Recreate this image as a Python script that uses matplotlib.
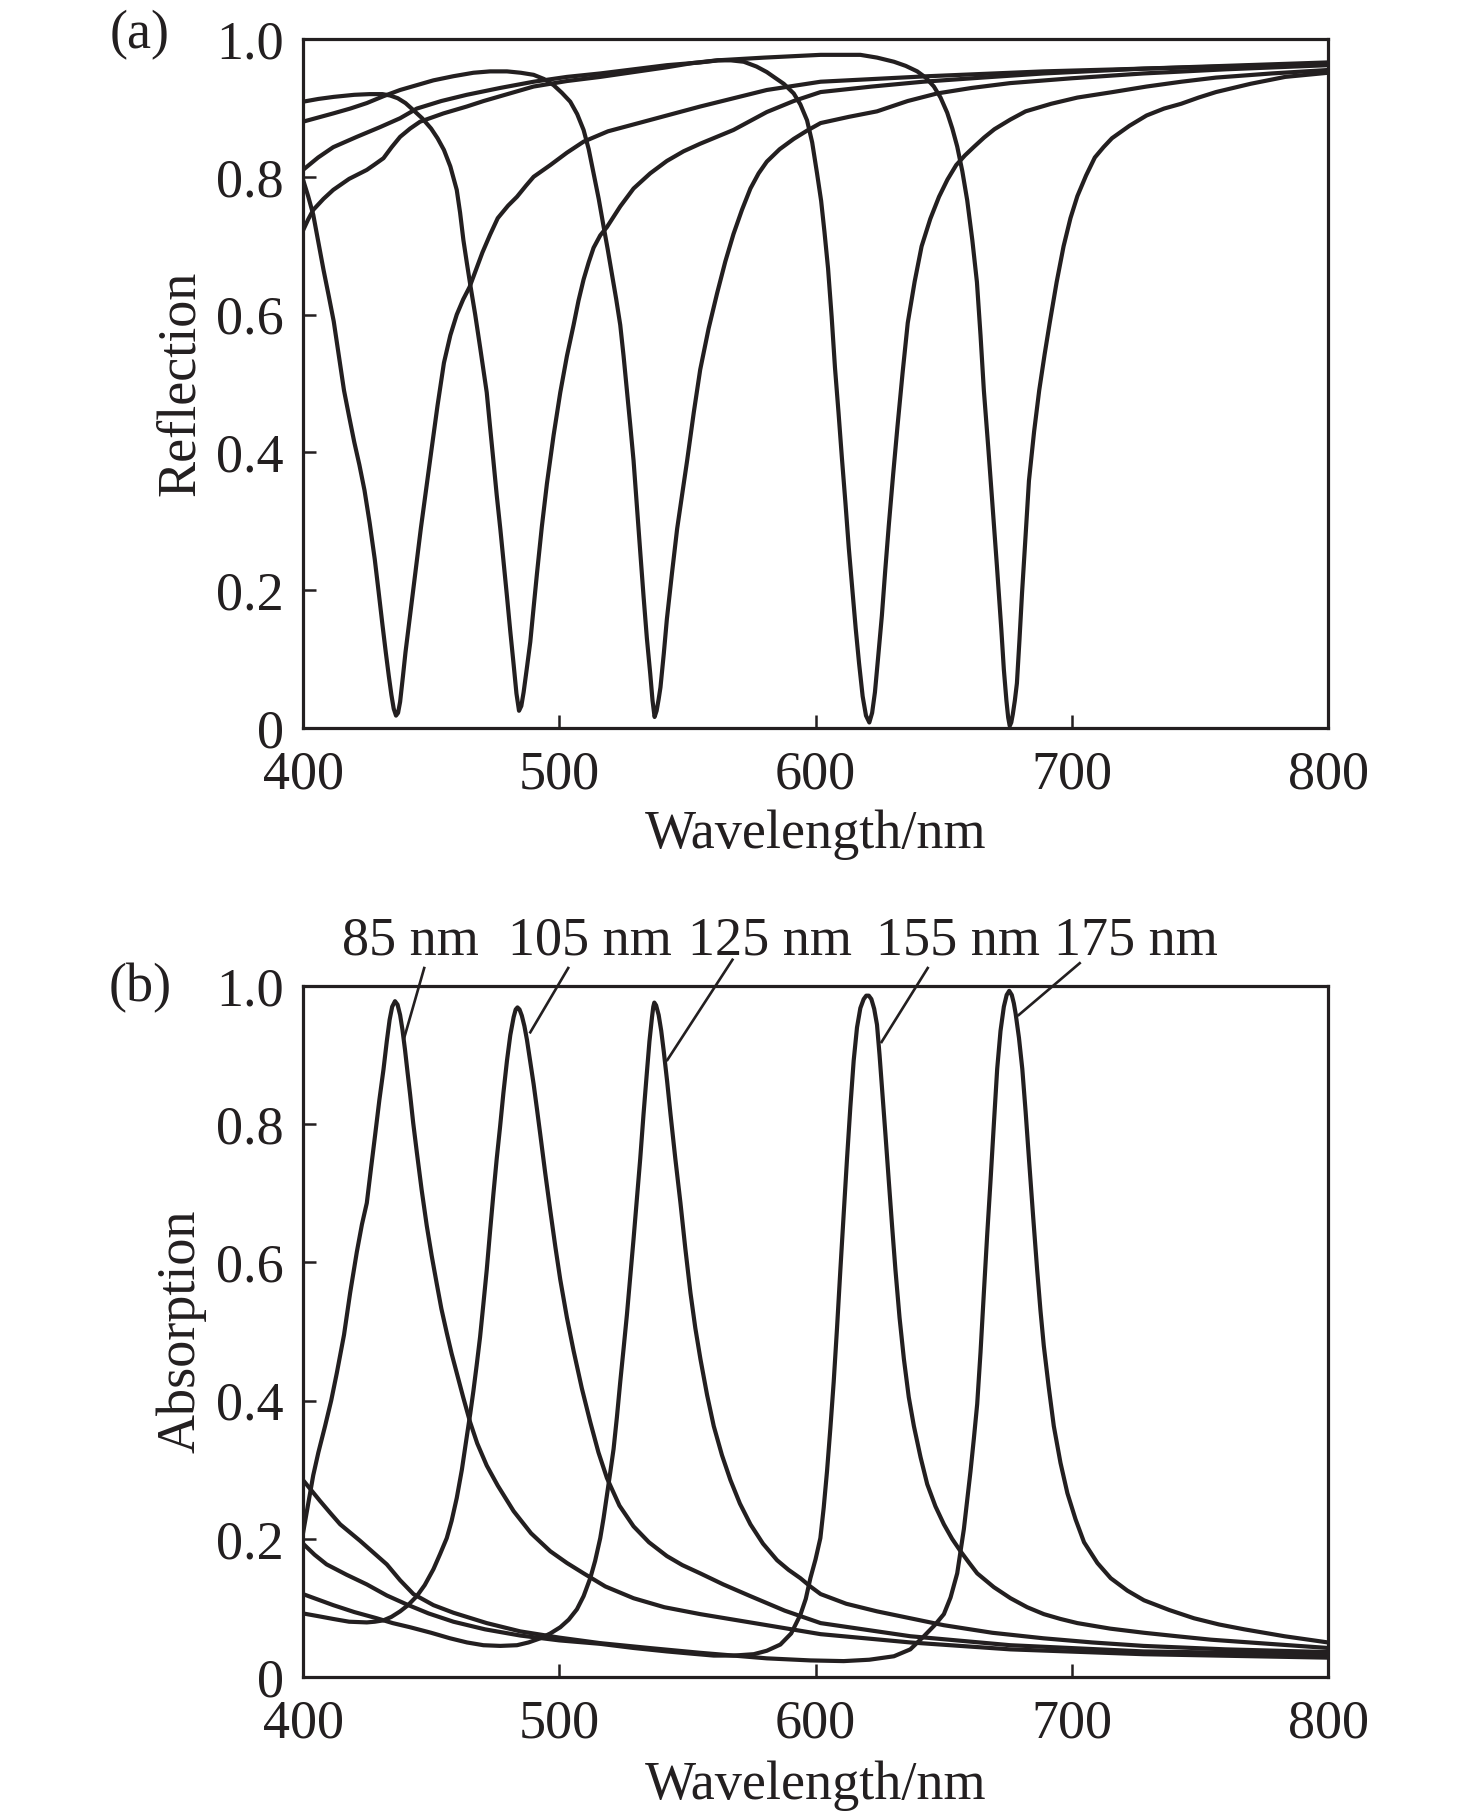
import matplotlib
matplotlib.use('Agg')
import matplotlib.pyplot as plt

plt.rcParams['font.family'] = ['Liberation Serif', 'DejaVu Serif']
plt.rcParams['font.size'] = 39

INK = '#231f20'

# ---- (a) reflection ----
wl_r85 = [400, 402, 404, 406, 408, 410, 412, 414, 416, 418, 420, 422, 424, 426, 428, 429.5, 431, 432.3,
          433.5, 434.5, 435.4, 436.3, 437.1, 437.9, 439, 440, 441, 442, 443, 444.5, 446, 448, 450,
          452.5, 455, 457.5, 460, 462.5, 465, 467.5, 470, 473, 476, 480, 483.5, 487, 490, 496.5, 503,
          509.5, 519, 529, 542, 555, 568, 581, 602, 644, 689, 728, 800]
r85 = [0.796, 0.772, 0.745, 0.705, 0.665, 0.628, 0.590, 0.540, 0.490, 0.452, 0.415, 0.382, 0.345,
       0.298, 0.245, 0.198, 0.150, 0.110, 0.075, 0.048, 0.028, 0.018, 0.022, 0.038, 0.075, 0.110,
       0.140, 0.170, 0.200, 0.245, 0.290, 0.345, 0.400, 0.468, 0.530, 0.570, 0.600, 0.622, 0.640,
       0.665, 0.690, 0.716, 0.740, 0.758, 0.771, 0.787, 0.800, 0.817, 0.835, 0.851, 0.866, 0.876,
       0.889, 0.902, 0.914, 0.926, 0.938, 0.946, 0.953, 0.957, 0.966]

wl_r105 = [400, 406, 412, 420, 426, 431, 434, 437, 440, 443, 446.5, 450, 452.5, 455, 457.5, 460, 461.3,
           462.6, 463.9, 465.2, 467.2, 469.1, 470.4, 471.7, 473, 474.3, 475.6, 477, 478.3, 479.6,
           480.9, 482.2, 483.3, 484.3, 485.2, 486.1, 487.4, 488.7, 490, 491.3, 493.2, 495.2, 497.8,
           500.4, 503, 505.6, 507.5, 509.5, 511.5, 513.4, 516, 518.6, 523.8, 529, 535.5, 542, 548.5,
           555, 561.5, 568, 574.5, 581, 591.5, 602, 622, 642, 665, 689, 728, 800]
r105 = [0.909, 0.913, 0.916, 0.919, 0.920, 0.920, 0.918, 0.914, 0.907, 0.897, 0.885, 0.870, 0.856,
        0.839, 0.815, 0.781, 0.748, 0.708, 0.676, 0.645, 0.600, 0.553, 0.520, 0.487, 0.437, 0.388,
        0.338, 0.289, 0.240, 0.191, 0.140, 0.092, 0.050, 0.025, 0.032, 0.052, 0.088, 0.125, 0.175,
        0.224, 0.292, 0.355, 0.425, 0.487, 0.540, 0.585, 0.620, 0.651, 0.676, 0.697, 0.715, 0.727,
        0.757, 0.783, 0.805, 0.823, 0.837, 0.848, 0.858, 0.868, 0.881, 0.894, 0.910, 0.923, 0.931,
        0.938, 0.944, 0.950, 0.957, 0.964]

wl_r125 = [400, 405.9, 411.8, 418.4, 424.9, 431.4, 437.9, 444.4, 450.9, 458.7, 466.5, 473, 479.6, 485,
           490, 494, 497.8, 501, 504.3, 507, 509.5, 511.5, 513.4, 515.4, 517.3, 518.9, 520.5, 522.2,
           523.8, 525.1, 526.4, 527.7, 529, 530.3, 531.6, 532.9, 534.2, 535.5, 536.4, 537.2, 538,
           538.8, 539.5, 540.8, 542, 544, 546, 548, 549.9, 552.5, 555, 558.3, 561.6, 564.8, 568,
           571.3, 574.6, 577.8, 581, 586, 591.5, 596.7, 602, 613, 624, 636, 647.5, 661, 676, 700,
           728, 760, 800]
r125 = [0.880, 0.886, 0.892, 0.899, 0.907, 0.917, 0.926, 0.933, 0.940, 0.946, 0.951, 0.953, 0.953,
        0.951, 0.948, 0.942, 0.933, 0.922, 0.909, 0.891, 0.868, 0.840, 0.805, 0.768, 0.728, 0.695,
        0.660, 0.623, 0.585, 0.540, 0.490, 0.440, 0.388, 0.322, 0.256, 0.191, 0.130, 0.079, 0.040,
        0.016, 0.025, 0.042, 0.059, 0.108, 0.158, 0.225, 0.289, 0.340, 0.388, 0.458, 0.520, 0.580,
        0.631, 0.677, 0.717, 0.752, 0.783, 0.805, 0.822, 0.840, 0.855, 0.867, 0.878, 0.887, 0.895,
        0.910, 0.921, 0.929, 0.936, 0.943, 0.950, 0.956, 0.962]

wl_r155 = [400, 405.9, 411.8, 421, 430, 437.9, 444.4, 454, 463.9, 477, 490, 503, 516, 529, 542, 555,
           562, 567, 572, 577, 581, 583.7, 587.6, 591.5, 594.1, 596.7, 598.7, 600.6, 602.2, 603.5,
           604.9, 606.3, 607.6, 609, 610.3, 611.7, 613, 614.4, 615.7, 617, 618.4, 619.7, 621, 622.1,
           623.2, 624.5, 625.9, 627.2, 628.6, 630.3, 632, 634, 636, 638.7, 641.4, 644.8, 648.2, 651.5,
           654.9, 658.3, 661.7, 665.8, 669.8, 676, 682, 692, 702.2, 716, 729.2, 742.8, 756.3, 778, 800]
r155 = [0.810, 0.828, 0.843, 0.858, 0.872, 0.885, 0.899, 0.910, 0.919, 0.929, 0.938, 0.945, 0.950,
        0.956, 0.962, 0.966, 0.969, 0.969, 0.967, 0.960, 0.952, 0.945, 0.935, 0.921, 0.905, 0.882,
        0.850, 0.805, 0.765, 0.720, 0.667, 0.597, 0.523, 0.457, 0.392, 0.326, 0.261, 0.200, 0.144,
        0.094, 0.046, 0.018, 0.008, 0.022, 0.052, 0.105, 0.163, 0.228, 0.294, 0.368, 0.438, 0.516,
        0.588, 0.648, 0.699, 0.739, 0.771, 0.796, 0.817, 0.831, 0.843, 0.857, 0.869, 0.883, 0.895,
        0.906, 0.915, 0.923, 0.931, 0.938, 0.944, 0.950, 0.955]

wl_r175 = [400, 402, 404, 408, 411.8, 418, 424.9, 428, 431.4, 434.6, 437.9, 441.8, 445.7, 454.8, 463.9,
           470.5, 477, 483.5, 490, 503, 516, 529, 542, 551.8, 561.6, 570.8, 580, 591, 602, 610, 617.5,
           624, 630.6, 635.2, 639.7, 643, 646.2, 648.8, 651.4, 653.4, 655.3, 657.3, 659.2, 661.2, 663,
           664.4, 665.7, 667.4, 669, 670.8, 672.5, 673.5, 674.5, 675.2, 675.8, 676.4, 677, 677.8,
           678.6, 679.6, 680.6, 682, 683.3, 685.3, 687.3, 689.4, 691.4, 694.1, 696.8, 699.5, 702.2,
           705.6, 709, 712.4, 715.7, 722.5, 729.2, 736, 742.7, 749.5, 756.3, 769.8, 783.3, 800]
r175 = [0.722, 0.738, 0.752, 0.768, 0.781, 0.797, 0.810, 0.818, 0.827, 0.843, 0.858, 0.870, 0.880,
        0.892, 0.902, 0.910, 0.917, 0.924, 0.931, 0.939, 0.945, 0.952, 0.959, 0.965, 0.969, 0.971,
        0.973, 0.975, 0.977, 0.977, 0.977, 0.973, 0.967, 0.961, 0.953, 0.944, 0.931, 0.915, 0.893,
        0.870, 0.844, 0.808, 0.766, 0.708, 0.647, 0.570, 0.490, 0.408, 0.327, 0.235, 0.144, 0.085,
        0.040, 0.015, 0.003, 0.008, 0.020, 0.040, 0.065, 0.128, 0.196, 0.280, 0.359, 0.430, 0.490,
        0.542, 0.588, 0.647, 0.699, 0.740, 0.772, 0.802, 0.828, 0.843, 0.856, 0.874, 0.889, 0.899,
        0.906, 0.915, 0.923, 0.935, 0.945, 0.951]

# ---- (b) absorption ----
wl_a85 = [400, 402, 404, 406, 408.6, 411, 413.2, 416, 418.4, 421, 423, 424.9, 426.5, 428.1, 429.8,
          431.4, 432.7, 433.8, 434.8, 435.9, 436.9, 437.9, 438.8, 439.8, 440.8, 441.8, 443, 444.4,
          446.3, 448.3, 450.2, 452.2, 454, 456.1, 458, 460, 462.5, 465.2, 468, 471.7, 476, 482.2, 489,
          496.5, 503, 509.5, 518, 529, 541, 555, 568, 581, 602, 637, 676, 728, 800]
a85 = [0.208, 0.250, 0.292, 0.325, 0.363, 0.400, 0.440, 0.495, 0.556, 0.615, 0.655, 0.686, 0.735,
       0.783, 0.835, 0.879, 0.920, 0.951, 0.970, 0.978, 0.973, 0.958, 0.937, 0.908, 0.875, 0.843,
       0.802, 0.760, 0.705, 0.653, 0.610, 0.569, 0.533, 0.498, 0.468, 0.440, 0.405, 0.369, 0.338,
       0.306, 0.277, 0.240, 0.208, 0.182, 0.165, 0.150, 0.131, 0.114, 0.101, 0.091, 0.083, 0.075,
       0.062, 0.050, 0.040, 0.033, 0.028]

wl_a105 = [400, 406, 411.8, 418, 424.9, 428, 431.4, 434.5, 437.9, 441, 444.4, 447.5, 450.9, 453.5,
           456.1, 458, 460, 462, 464, 465.3, 466.5, 467.8, 469.1, 470.4, 471.7, 473, 474.3, 475.6,
           476.9, 478.2, 479.6, 480.9, 482.2, 483, 483.7, 484.5, 485.4, 486.4, 487.4, 488.7, 490,
           491.3, 492.6, 494.5, 496.5, 498.5, 500.4, 503, 505.6, 508.8, 512.1, 515.3, 518.6, 523.5,
           529, 535, 542, 548, 555, 564, 574.6, 588, 602, 637, 676, 728, 800]
a105 = [0.092, 0.088, 0.084, 0.080, 0.079, 0.080, 0.082, 0.087, 0.095, 0.104, 0.117, 0.133, 0.156,
        0.178, 0.201, 0.226, 0.259, 0.300, 0.350, 0.382, 0.414, 0.452, 0.492, 0.540, 0.589, 0.645,
        0.699, 0.750, 0.796, 0.845, 0.892, 0.929, 0.955, 0.966, 0.969, 0.966, 0.957, 0.942, 0.922,
        0.890, 0.858, 0.822, 0.785, 0.730, 0.675, 0.622, 0.575, 0.520, 0.472, 0.418, 0.369, 0.325,
        0.288, 0.248, 0.218, 0.195, 0.175, 0.162, 0.150, 0.134, 0.117, 0.096, 0.078, 0.059, 0.046,
        0.037, 0.033]

wl_a125 = [400, 411.8, 420, 428.8, 435, 441.8, 450, 457.4, 464, 470.4, 477, 483.5, 488, 492.6, 496.5,
           500.4, 503.7, 506.9, 509.5, 512.1, 514, 516, 517.3, 518.6, 519.9, 521.2, 522.5, 523.8,
           525.1, 526.4, 527.7, 529, 530.3, 531.6, 532.9, 534.2, 535.2, 536.2, 536.7, 537.1, 537.8,
           538.8, 539.8, 540.8, 542.1, 543.4, 545.3, 547.3, 549.2, 551.2, 553.1, 555.1, 557.7, 560.3,
           563.5, 566.8, 570.5, 574.6, 579.5, 585, 589.5, 594.1, 598, 602, 612, 624, 637, 650, 669,
           689, 708, 728, 760, 800]
a125 = [0.120, 0.104, 0.094, 0.085, 0.078, 0.072, 0.064, 0.056, 0.050, 0.046, 0.045, 0.046, 0.050,
        0.056, 0.063, 0.072, 0.083, 0.098, 0.117, 0.143, 0.168, 0.201, 0.230, 0.263, 0.296, 0.330,
        0.376, 0.427, 0.475, 0.524, 0.579, 0.634, 0.692, 0.750, 0.815, 0.875, 0.920, 0.955, 0.970,
        0.976, 0.972, 0.958, 0.935, 0.905, 0.862, 0.815, 0.750, 0.686, 0.620, 0.556, 0.505, 0.460,
        0.408, 0.363, 0.321, 0.285, 0.251, 0.221, 0.193, 0.169, 0.155, 0.143, 0.131, 0.120, 0.106,
        0.095, 0.085, 0.075, 0.064, 0.056, 0.050, 0.045, 0.040, 0.036]

wl_a155 = [400, 404.5, 409.2, 417, 424.9, 432.7, 440.5, 449, 458.7, 471, 484.8, 500, 516, 529, 542, 551,
           560.3, 568, 575.9, 581, 586.3, 590.5, 594.1, 596.2, 598, 600, 601.9, 603.2, 604.5, 605.8,
           607.1, 608.4, 609.7, 611, 612.3, 613.6, 614.9, 616.2, 617.5, 618.8, 619.8, 620.8, 621.8,
           622.9, 624, 625, 626, 627.3, 628.6, 629.9, 631.2, 632.8, 634.5, 636.4, 638.4, 641, 643.6,
           646.8, 650.1, 653.3, 656.6, 660, 663.1, 669.6, 676.1, 682.6, 689.1, 695.6, 702.2, 715,
           728.2, 741, 754.3, 777, 800]
a155 = [0.193, 0.177, 0.163, 0.148, 0.134, 0.118, 0.105, 0.092, 0.080, 0.069, 0.060, 0.053, 0.048,
        0.042, 0.037, 0.034, 0.031, 0.031, 0.033, 0.038, 0.047, 0.063, 0.090, 0.113, 0.143, 0.170,
        0.201, 0.245, 0.298, 0.360, 0.427, 0.505, 0.589, 0.670, 0.750, 0.825, 0.892, 0.940, 0.968,
        0.981, 0.986, 0.986, 0.981, 0.967, 0.944, 0.900, 0.850, 0.785, 0.718, 0.652, 0.589, 0.520,
        0.460, 0.405, 0.363, 0.318, 0.279, 0.247, 0.221, 0.200, 0.182, 0.165, 0.150, 0.130, 0.114,
        0.101, 0.091, 0.084, 0.078, 0.070, 0.064, 0.059, 0.054, 0.048, 0.042]

wl_a175 = [400, 403.3, 406.6, 410.5, 414.5, 418.4, 422.3, 427.5, 432.7, 437.9, 443.1, 450.9, 458.7,
           471.7, 484.8, 500, 516, 535, 555, 568, 581, 598, 611, 621, 630.6, 637, 642.3, 646.5, 650.1,
           652.7, 655.3, 657.9, 660.5, 661.8, 663.1, 664.4, 665.7, 667, 668.3, 669.6, 670.9, 672.2,
           673.5, 674.6, 675.6, 676.6, 677.4, 678.1, 679.4, 680.7, 682, 683.3, 684.9, 686.5, 687.8,
           689.1, 691, 693, 695.6, 698.3, 701.5, 704.8, 710, 715.2, 721.7, 728.2, 738, 747.7, 757.5,
           767.3, 783, 800]
a175 = [0.285, 0.270, 0.255, 0.238, 0.221, 0.209, 0.197, 0.180, 0.163, 0.140, 0.120, 0.104, 0.093,
        0.078, 0.066, 0.057, 0.049, 0.042, 0.035, 0.031, 0.027, 0.024, 0.023, 0.025, 0.030, 0.040,
        0.059, 0.075, 0.091, 0.115, 0.150, 0.214, 0.298, 0.345, 0.395, 0.470, 0.556, 0.640, 0.718,
        0.800, 0.880, 0.935, 0.970, 0.987, 0.993, 0.987, 0.975, 0.960, 0.925, 0.880, 0.818, 0.750,
        0.668, 0.589, 0.530, 0.479, 0.420, 0.363, 0.310, 0.266, 0.228, 0.195, 0.165, 0.143, 0.125,
        0.111, 0.097, 0.085, 0.076, 0.069, 0.059, 0.050]

thickness = ['85 nm', '105 nm', '125 nm', '155 nm', '175 nm']
label_x = [441.8, 512.0, 582.3, 655.6, 725.1]
leader_start = [(447.3, 1.026), (503.5, 1.026), (567.6, 1.038), (643.8, 1.026), (703.1, 1.033)]
leader_end = [(439.5, 0.925), (488.7, 0.933), (542.2, 0.893), (625.8, 0.919), (679.3, 0.958)]

refl = [(wl_r85, r85), (wl_r105, r105), (wl_r125, r125), (wl_r155, r155), (wl_r175, r175)]
absp = [(wl_a85, a85), (wl_a105, a105), (wl_a125, a125), (wl_a155, a155), (wl_a175, a175)]

W, H = 1476, 1812
fig = plt.figure(figsize=(W / 100, H / 100), dpi=100)
ax1 = fig.add_axes([303 / W, 1 - 728 / H, 1025 / W, 689 / H])
ax2 = fig.add_axes([303 / W, 1 - 1677 / H, 1025 / W, 691 / H])


def style(ax, ylabel, xpad):
    ax.set_xlim(400, 800)
    ax.set_ylim(0, 1.0)
    ax.set_xticks([400, 500, 600, 700, 800])
    ax.set_yticks([0, 0.2, 0.4, 0.6, 0.8, 1.0])
    ax.set_yticklabels(['0', '0.2', '0.4', '0.6', '0.8', '1.0'])
    ax.tick_params(direction='in', length=9.5, width=1.8, color=INK, labelcolor=INK,
                   top=False, right=False)
    ax.tick_params(axis='x', pad=16)
    ax.tick_params(axis='y', pad=14)
    for s in ax.spines.values():
        s.set_linewidth(2.3)
        s.set_color(INK)
    ax.set_xlabel('Wavelength/nm', labelpad=xpad, color=INK)
    ax.set_ylabel(ylabel, labelpad=7, color=INK)


for x, y in refl:
    ax1.plot(x, y, color=INK, lw=3.0, solid_joinstyle='round')
for x, y in absp:
    ax2.plot(x, y, color=INK, lw=3.0, solid_joinstyle='round')

style(ax1, 'Reflection', 6)
style(ax2, 'Absorption', 8)

for name, lx, p0, p1 in zip(thickness, label_x, leader_start, leader_end):
    ax2.plot([p0[0], p1[0]], [p0[1], p1[1]], color=INK, lw=1.9, clip_on=False)
    ax2.text(lx, 1.065, name, ha='center', va='center', color=INK, clip_on=False)

fig.text(140 / W, 1 - 35 / H, '(a)', ha='center', va='center', color=INK)
fig.text(140 / W, 1 - 988 / H, '(b)', ha='center', va='center', color=INK)

fig.savefig('out.png', dpi=100, facecolor='white')
